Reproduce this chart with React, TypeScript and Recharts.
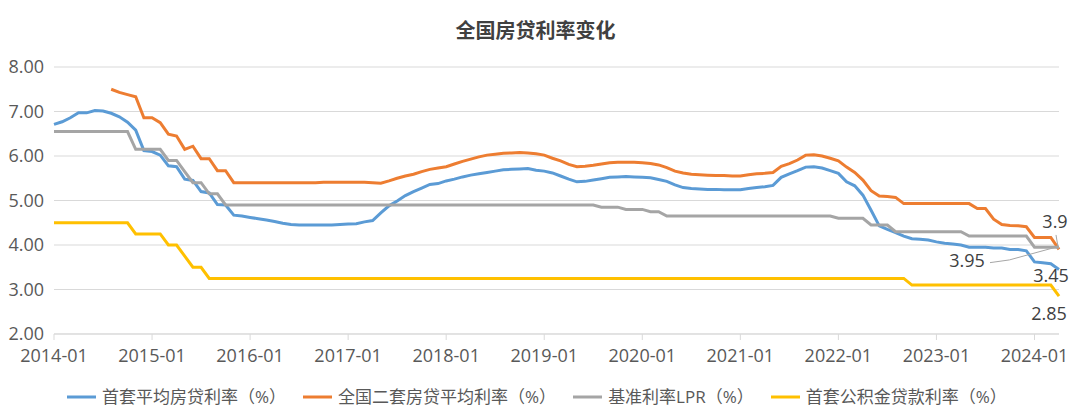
import React from 'react';
import { LineChart, Line, XAxis, YAxis, CartesianGrid } from 'recharts';

// monthly categories, 2014-01 .. 2024-04
const months: string[] = [];
for (let y = 2014; y <= 2024; y++) {
  for (let m = 1; m <= 12; m++) months.push(`${y}-${String(m).padStart(2, '0')}`);
}
months.length = 124;

const xTicks = [
  '2014-01', '2015-01', '2016-01', '2017-01', '2018-01', '2019-01',
  '2020-01', '2021-01', '2022-01', '2023-01', '2024-01'
];
const yTicks = [2, 3, 4, 5, 6, 7, 8];

// 首套平均房贷利率
const firstHome = [
  6.71, 6.77, 6.86, 6.97, 6.97, 7.02, 7.01, 6.96, 6.88, 6.76, 6.58, 6.12,
  6.10, 6.02, 5.78, 5.76, 5.48, 5.45, 5.20, 5.17, 4.91, 4.90, 4.67, 4.65,
  4.62, 4.59, 4.56, 4.53, 4.49, 4.46, 4.45, 4.45, 4.45, 4.45, 4.45, 4.46,
  4.47, 4.48, 4.52, 4.55, 4.72, 4.88, 4.99, 5.11, 5.20, 5.28, 5.36, 5.38,
  5.44, 5.48, 5.53, 5.57, 5.60, 5.63, 5.66, 5.69, 5.70, 5.71, 5.72, 5.68,
  5.66, 5.62, 5.55, 5.48, 5.42, 5.43, 5.46, 5.49, 5.52, 5.53, 5.54, 5.53,
  5.52, 5.51, 5.47, 5.43, 5.35, 5.29, 5.27, 5.26, 5.25, 5.25, 5.24, 5.24,
  5.24, 5.27, 5.29, 5.31, 5.34, 5.52, 5.60, 5.67, 5.75, 5.76, 5.73, 5.67,
  5.61, 5.42, 5.33, 5.12, 4.78, 4.43, 4.35, 4.28, 4.20, 4.14, 4.13, 4.11,
  4.07, 4.04, 4.02, 4.00, 3.95, 3.95, 3.95, 3.93, 3.93, 3.90, 3.90, 3.87,
  3.62, 3.60, 3.58, 3.45
];

// 全国二套房贷平均利率
const secondHome = [
  null, null, null, null, null, null, null, 7.50, 7.43, 7.38, 7.33, 6.86,
  6.86, 6.75, 6.49, 6.45, 6.15, 6.22, 5.94, 5.94, 5.67, 5.67, 5.40, 5.40,
  5.40, 5.40, 5.40, 5.40, 5.40, 5.40, 5.40, 5.40, 5.40, 5.41, 5.41, 5.41,
  5.41, 5.41, 5.41, 5.40, 5.39, 5.44, 5.50, 5.55, 5.59, 5.65, 5.70, 5.73,
  5.76, 5.82, 5.88, 5.93, 5.98, 6.02, 6.04, 6.06, 6.07, 6.08, 6.07, 6.05,
  6.02, 5.95, 5.89, 5.81, 5.76, 5.77, 5.79, 5.82, 5.85, 5.86, 5.86, 5.86,
  5.85, 5.83, 5.80, 5.74, 5.66, 5.62, 5.59, 5.58, 5.57, 5.56, 5.56, 5.55,
  5.55, 5.58, 5.60, 5.61, 5.63, 5.77, 5.83, 5.91, 6.02, 6.03, 6.00, 5.95,
  5.89, 5.75, 5.63, 5.46, 5.22, 5.10, 5.09, 5.07, 4.93, 4.93, 4.93, 4.93,
  4.93, 4.93, 4.93, 4.93, 4.93, 4.82, 4.82, 4.58, 4.46, 4.44, 4.43, 4.41,
  4.17, 4.17, 4.17, 3.90
];

// 基准利率LPR
const lprRate = [
  6.55, 6.55, 6.55, 6.55, 6.55, 6.55, 6.55, 6.55, 6.55, 6.55, 6.15, 6.15,
  6.15, 6.15, 5.90, 5.90, 5.65, 5.40, 5.40, 5.15, 5.15, 4.90, 4.90, 4.90,
  4.90, 4.90, 4.90, 4.90, 4.90, 4.90, 4.90, 4.90, 4.90, 4.90, 4.90, 4.90,
  4.90, 4.90, 4.90, 4.90, 4.90, 4.90, 4.90, 4.90, 4.90, 4.90, 4.90, 4.90,
  4.90, 4.90, 4.90, 4.90, 4.90, 4.90, 4.90, 4.90, 4.90, 4.90, 4.90, 4.90,
  4.90, 4.90, 4.90, 4.90, 4.90, 4.90, 4.90, 4.85, 4.85, 4.85, 4.80, 4.80,
  4.80, 4.75, 4.75, 4.65, 4.65, 4.65, 4.65, 4.65, 4.65, 4.65, 4.65, 4.65,
  4.65, 4.65, 4.65, 4.65, 4.65, 4.65, 4.65, 4.65, 4.65, 4.65, 4.65, 4.65,
  4.60, 4.60, 4.60, 4.60, 4.45, 4.45, 4.45, 4.30, 4.30, 4.30, 4.30, 4.30,
  4.30, 4.30, 4.30, 4.30, 4.20, 4.20, 4.20, 4.20, 4.20, 4.20, 4.20, 4.20,
  3.95, 3.95, 3.95, 3.95
];

// 首套公积金贷款利率
const fundRate = [
  4.50, 4.50, 4.50, 4.50, 4.50, 4.50, 4.50, 4.50, 4.50, 4.50, 4.25, 4.25,
  4.25, 4.25, 4.00, 4.00, 3.75, 3.50, 3.50, 3.25, 3.25, 3.25, 3.25, 3.25,
  3.25, 3.25, 3.25, 3.25, 3.25, 3.25, 3.25, 3.25, 3.25, 3.25, 3.25, 3.25,
  3.25, 3.25, 3.25, 3.25, 3.25, 3.25, 3.25, 3.25, 3.25, 3.25, 3.25, 3.25,
  3.25, 3.25, 3.25, 3.25, 3.25, 3.25, 3.25, 3.25, 3.25, 3.25, 3.25, 3.25,
  3.25, 3.25, 3.25, 3.25, 3.25, 3.25, 3.25, 3.25, 3.25, 3.25, 3.25, 3.25,
  3.25, 3.25, 3.25, 3.25, 3.25, 3.25, 3.25, 3.25, 3.25, 3.25, 3.25, 3.25,
  3.25, 3.25, 3.25, 3.25, 3.25, 3.25, 3.25, 3.25, 3.25, 3.25, 3.25, 3.25,
  3.25, 3.25, 3.25, 3.25, 3.25, 3.25, 3.25, 3.25, 3.25, 3.10, 3.10, 3.10,
  3.10, 3.10, 3.10, 3.10, 3.10, 3.10, 3.10, 3.10, 3.10, 3.10, 3.10, 3.10,
  3.10, 3.10, 3.10, 2.85
];

const data = months.map((month, i) => ({
  month,
  firstHome: firstHome[i],
  secondHome: secondHome[i],
  lpr: lprRate[i],
  fund: fundRate[i]
}));

const LAST = months.length - 1;
const FONT = '"Open Sans", "Noto Sans CJK SC", sans-serif';
const TEXT = '#595959';
const GRID = '#d9d9d9';

const series = [
  { key: 'firstHome', name: '首套平均房贷利率（%）', color: '#5B9BD5' },
  { key: 'secondHome', name: '全国二套房贷平均利率（%）', color: '#ED7D31' },
  { key: 'lpr', name: '基准利率LPR（%）', color: '#A5A5A5' },
  { key: 'fund', name: '首套公积金贷款利率（%）', color: '#FFC000' }
];

// label on the last point, with an optional leader line (offsets from the point)
const endLabel = (text: string, dx: number, dy: number, leader?: number[][]) => (props: any) => {
  if (props.index !== LAST || props.x == null || props.y == null) return null;
  const { x, y } = props;
  return (
    <g>
      {leader && (
        <polyline
          points={leader.map(([lx, ly]) => `${x + lx},${y + ly}`).join(' ')}
          fill="none"
          stroke="#a6a6a6"
          strokeWidth={1}
        />
      )}
      <text x={x + dx} y={y + dy} textAnchor="middle" fill="#404040" fontSize={18} fontFamily={FONT}>
        {text}
      </text>
    </g>
  );
};

const labels: Record<string, any> = {
  firstHome: endLabel('3.45', -8, 12.5),
  secondHome: endLabel('3.9', -4, -21.5, [[-3, -14.5], [-1, -2.5]]),
  lpr: endLabel('3.95', -92, 20, [[-69, 15.4], [-49.6, 12.7], [-1.5, -0.5]]),
  fund: endLabel('2.85', -10, 24)
};

export default function App() {
  return (
    <div style={{ position: 'relative', width: 1080, height: 420, background: '#fff', fontFamily: FONT }}>
      <style>{'body{margin:0}'}</style>
      <div
        style={{
          position: 'absolute', top: 17, left: 0, width: 1071, textAlign: 'center',
          fontSize: 20, fontWeight: 700, color: '#404040', lineHeight: '26px',
          fontFamily: '"Noto Sans CJK SC", sans-serif'
        }}
      >
        全国房贷利率变化
      </div>
      <LineChart width={1080} height={420} data={data} margin={{ top: 67, right: 21, bottom: 56, left: 0 }}>
        <CartesianGrid vertical={false} stroke={GRID} />
        <XAxis
          dataKey="month"
          ticks={xTicks}
          interval={0}
          height={30}
          stroke={GRID}
          tickSize={6}
          tickMargin={9}
          tick={{ fill: TEXT, fontSize: 18, fontFamily: FONT }}
        />
        <YAxis
          domain={[2, 8]}
          ticks={yTicks}
          width={54}
          axisLine={false}
          tickLine={false}
          tickSize={0}
          tickMargin={10}
          tickFormatter={(v: number) => v.toFixed(2)}
          tick={{ fill: TEXT, fontSize: 18, fontFamily: FONT }}
        />
        {series.map((s) => (
          <Line
            key={s.key}
            type="linear"
            dataKey={s.key}
            name={s.name}
            stroke={s.color}
            strokeWidth={3}
            dot={false}
            isAnimationActive={false}
            label={labels[s.key]}
          />
        ))}
      </LineChart>
      <div
        style={{
          position: 'absolute', top: 386, left: 67, display: 'flex', alignItems: 'center',
          fontSize: 17, lineHeight: '22px', color: TEXT
        }}
      >
        {series.map((s) => (
          <div key={s.key} style={{ display: 'flex', alignItems: 'center', marginRight: 17 }}>
            <svg width={29} height={4} style={{ marginRight: 6 }}>
              <line x1={0} y1={2} x2={29} y2={2} stroke={s.color} strokeWidth={3} />
            </svg>
            <span>{s.name}</span>
          </div>
        ))}
      </div>
    </div>
  );
}
